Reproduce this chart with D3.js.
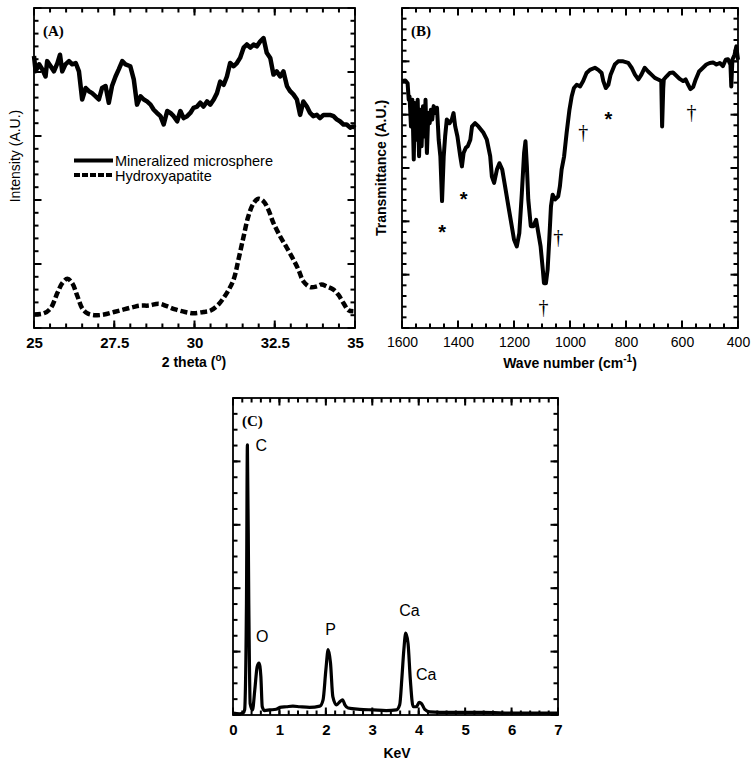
<!DOCTYPE html>
<html>
<head>
<meta charset="utf-8">
<script src="https://cdn.jsdelivr.net/npm/d3@7"></script>
<style>
  body { margin: 0; background: #fff; }
</style>
</head>
<body>
<svg id="fig" width="756" height="769"></svg>
<script>
// ---- (A) XRD: 2 theta vs intensity ----
const xrdMineralized = [
  [25.00,4.25],[25.05,4.01],[25.16,4.12],[25.26,4.04],[25.36,3.93],[25.41,4.17],[25.52,4.09],[25.62,4.01],
  [25.73,4.14],[25.81,4.27],[25.88,4.01],[25.98,4.12],[26.09,4.17],[26.19,4.12],[26.30,4.14],[26.40,4.01],
  [26.50,3.57],[26.61,3.75],[26.71,3.70],[26.81,3.67],[26.92,3.62],[27.02,3.57],[27.12,3.75],[27.23,3.78],
  [27.33,3.52],[27.43,3.78],[27.54,3.93],[27.64,4.04],[27.75,4.17],[27.85,4.12],[28.00,4.09],[28.11,3.88],
  [28.21,3.49],[28.32,3.62],[28.42,3.57],[28.52,3.54],[28.63,3.49],[28.73,3.41],[28.83,3.36],[28.94,3.31],
  [29.04,3.18],[29.15,3.39],[29.25,3.36],[29.35,3.31],[29.46,3.23],[29.56,3.39],[29.66,3.28],[29.77,3.31],
  [29.87,3.36],[29.97,3.44],[30.08,3.46],[30.18,3.52],[30.28,3.46],[30.39,3.54],[30.49,3.49],[30.60,3.57],
  [30.70,3.67],[30.80,3.85],[30.91,3.80],[31.01,3.93],[31.11,4.14],[31.22,4.09],[31.32,4.14],[31.42,4.22],
  [31.53,4.38],[31.63,4.43],[31.74,4.38],[31.84,4.43],[31.94,4.40],[32.05,4.48],[32.15,4.53],[32.25,4.30],
  [32.36,4.22],[32.46,3.96],[32.56,4.01],[32.67,3.93],[32.77,4.01],[32.88,3.78],[32.98,3.70],[33.08,3.65],
  [33.19,3.57],[33.29,3.33],[33.39,3.54],[33.50,3.46],[33.60,3.36],[33.70,3.31],[33.81,3.33],[33.91,3.28],
  [34.02,3.33],[34.12,3.33],[34.22,3.33],[34.33,3.31],[34.43,3.26],[34.53,3.23],[34.64,3.18],[34.74,3.18],
  [34.85,3.13],[34.95,3.15],[35.00,3.13]
];
const xrdHydroxyapatite = [
  [25.00,0.21],[25.31,0.23],[25.52,0.31],[25.73,0.55],[25.88,0.70],[26.04,0.77],[26.19,0.70],[26.35,0.50],
  [26.50,0.31],[26.66,0.23],[26.92,0.20],[27.18,0.21],[27.49,0.25],[27.80,0.29],[28.11,0.33],[28.32,0.35],
  [28.57,0.35],[28.89,0.38],[29.14,0.34],[29.40,0.29],[29.71,0.25],[29.97,0.23],[30.28,0.25],[30.49,0.27],
  [30.75,0.37],[31.01,0.55],[31.22,0.76],[31.37,1.07],[31.53,1.43],[31.68,1.75],[31.84,1.95],[31.99,2.02],
  [32.15,1.98],[32.30,1.85],[32.46,1.64],[32.67,1.43],[32.88,1.25],[33.08,1.07],[33.24,0.91],[33.39,0.73],
  [33.60,0.64],[33.81,0.65],[33.96,0.68],[34.12,0.65],[34.33,0.60],[34.48,0.52],[34.64,0.39],[34.79,0.28],
  [34.95,0.26]
];
const xrdTicks = [25, 27.5, 30, 32.5, 35];
const xrdLegend = ["Mineralized microsphere", "Hydroxyapatite"];

// ---- (B) FTIR: wave number vs transmittance ----
const ftir = [
  [1600,4.63],[1588,4.64],[1580,4.59],[1576,4.28],[1573,4.34],[1568,3.78],[1563,4.28],[1558,3.16],
  [1554,4.22],[1549,3.53],[1544,4.28],[1539,3.22],[1535,4.09],[1530,3.41],[1525,4.16],[1520,3.59],
  [1516,4.28],[1511,3.28],[1506,4.03],[1501,3.84],[1497,4.09],[1492,3.91],[1487,4.16],[1480,4.03],
  [1475,4.13],[1469,3.53],[1463,3.22],[1457,2.38],[1451,3.22],[1446,3.59],[1440,3.91],[1430,3.84],
  [1422,3.91],[1416,4.03],[1410,3.78],[1402,3.59],[1392,3.22],[1386,3.03],[1380,3.28],[1372,3.38],
  [1365,3.41],[1356,3.53],[1350,3.78],[1339,3.84],[1327,3.78],[1309,3.66],[1297,3.53],[1285,3.22],
  [1279,2.84],[1271,2.72],[1261,2.97],[1252,3.09],[1242,2.97],[1232,2.66],[1220,2.28],[1208,1.91],
  [1200,1.66],[1190,1.53],[1181,1.78],[1172,2.53],[1164,3.28],[1159,3.50],[1154,3.03],[1149,2.41],
  [1140,1.91],[1131,1.91],[1121,2.03],[1113,1.78],[1105,1.53],[1097,1.09],[1093,0.84],[1086,0.84],
  [1080,1.09],[1074,1.66],[1068,2.28],[1062,2.50],[1053,2.41],[1042,2.47],[1036,2.66],[1030,2.97],
  [1021,3.22],[1012,3.66],[1002,4.09],[994,4.34],[986,4.50],[976,4.56],[964,4.53],[953,4.63],
  [941,4.78],[929,4.84],[911,4.88],[899,4.84],[887,4.78],[881,4.63],[872,4.50],[863,4.56],
  [855,4.75],[840,4.94],[828,5.00],[810,5.00],[792,4.97],[780,4.88],[768,4.75],[756,4.66],
  [745,4.75],[733,4.88],[721,4.81],[709,4.75],[697,4.69],[685,4.66],[674,4.63],[671,3.78],
  [667,4.50],[665,4.66],[655,4.72],[644,4.78],[632,4.79],[620,4.73],[608,4.67],[596,4.63],
  [587,4.66],[578,4.56],[570,4.48],[560,4.52],[551,4.66],[539,4.81],[525,4.88],[513,4.94],
  [501,4.97],[489,4.98],[477,4.94],[465,4.97],[454,4.91],[444,5.03],[436,5.04],[427,4.94],
  [424,4.53],[420,5.03],[412,5.13],[406,5.28],[400,5.03]
];
const ftirTicks = [1600, 1400, 1200, 1000, 800, 600, 400];
const ftirMarks = [
  [1457,1.88,"*"],[1380,2.50,"*"],[863,4.00,"*"],
  [1095,0.38,"\u2020"],[1042,1.69,"\u2020"],[953,3.66,"\u2020"],[566,4.03,"\u2020"]
];

// ---- (C) EDS: energy vs counts ----
const eds = [
  [0.00,0.03],[0.14,0.02],[0.22,0.03],[0.25,0.08],[0.29,1.76],[0.31,4.26],[0.34,1.76],[0.37,0.18],
  [0.42,0.08],[0.47,0.40],[0.52,0.76],[0.56,0.82],[0.60,0.61],[0.63,0.13],[0.68,0.07],[0.79,0.08],
  [0.93,0.09],[1.01,0.12],[1.15,0.13],[1.29,0.14],[1.44,0.13],[1.65,0.12],[1.87,0.14],[1.94,0.24],
  [2.00,0.71],[2.05,1.03],[2.10,0.82],[2.15,0.29],[2.23,0.16],[2.30,0.21],[2.36,0.24],[2.41,0.16],
  [2.48,0.11],[2.73,0.09],[3.02,0.08],[3.30,0.07],[3.52,0.08],[3.59,0.16],[3.64,0.61],[3.68,1.03],
  [3.72,1.29],[3.77,1.13],[3.82,0.55],[3.88,0.13],[3.95,0.13],[4.01,0.20],[4.06,0.18],[4.13,0.09],
  [4.24,0.05],[4.67,0.04],[5.38,0.04],[6.10,0.03],[7.00,0.03]
];
const edsTicks = [0, 1, 2, 3, 4, 5, 6, 7];
const edsPeaks = [
  [0.61,4.26,"C"],[0.63,1.25,"O"],[2.10,1.36,"P"],[3.80,1.65,"Ca"],[4.16,0.65,"Ca"]
];

const sans = "Arial, 'Liberation Sans', Helvetica, sans-serif";
const serif = "'Liberation Serif', 'Times New Roman', serif";
const svg = d3.select("#fig");

function panel(o) {
  const g = svg.append("g");
  const x = d3.scaleLinear().domain(o.xDomain).range([o.left, o.right]);
  const y = d3.scaleLinear().domain(o.yDomain).range([o.bottom, o.top]);

  // labelled bottom axis (labels only, ticks drawn separately)
  const bx = g.append("g").attr("transform", `translate(0,${o.bottom})`)
    .call(d3.axisBottom(x).tickValues(o.xMajor).tickSize(0).tickPadding(9).tickFormat(d3.format("")))
    .call(s => s.select(".domain").remove());
  bx.selectAll("text")
    .attr("font-family", sans).attr("font-size", o.tickBold ? 15 : 14)
    .attr("font-weight", o.tickBold ? "bold" : "normal").attr("fill", "#000");

  g.append("rect")
    .attr("x", o.left).attr("y", o.top)
    .attr("width", o.right - o.left).attr("height", o.bottom - o.top)
    .attr("fill", "none").attr("stroke", "#000").attr("stroke-width", 1.8);

  g.append("text")
    .attr("x", o.left + 9).attr("y", o.top + 28)
    .attr("font-family", serif).attr("font-weight", "bold").attr("font-size", 15)
    .attr("fill", "#000")
    .text(o.tag);

  return { g, x, y, o };
}

// inward ticks on all four sides
function frameTicks(p) {
  const { g, x, y, o } = p;
  const t = g.append("g");
  [[o.xMinor, 4.5], [o.xMajor, 7.5]].forEach(([vals, len]) => {
    t.append("g").selectAll("line").data(vals).join("line")
      .attr("x1", d => x(d)).attr("x2", d => x(d))
      .attr("y1", o.top).attr("y2", o.top + len)
      .attr("stroke", "#000").attr("stroke-width", 2);
    t.append("g").selectAll("line").data(vals).join("line")
      .attr("x1", d => x(d)).attr("x2", d => x(d))
      .attr("y1", o.bottom).attr("y2", o.bottom - len)
      .attr("stroke", "#000").attr("stroke-width", 2);
  });
  [[o.yMinor, 4.5], [o.yMajor, 7.5]].forEach(([vals, len]) => {
    t.append("g").selectAll("line").data(vals).join("line")
      .attr("x1", o.left).attr("x2", o.left + len)
      .attr("y1", d => y(d)).attr("y2", d => y(d))
      .attr("stroke", "#000").attr("stroke-width", 2);
    t.append("g").selectAll("line").data(vals).join("line")
      .attr("x1", o.right).attr("x2", o.right - len)
      .attr("y1", d => y(d)).attr("y2", d => y(d))
      .attr("stroke", "#000").attr("stroke-width", 2);
  });
}

// ---------- Panel A ----------
{
  const p = panel({
    left: 34, right: 355, top: 8, bottom: 328,
    xDomain: [25, 35], yDomain: [0, 5],
    xMajor: xrdTicks, xMinor: d3.range(25, 35.01, 0.5),
    yMajor: d3.range(0, 5.01, 1), yMinor: d3.range(0, 5.01, 0.2),
    tickBold: true, tag: "(A)"
  });
  const { g, x, y } = p;
  frameTicks(p);
  g.append("path").datum(xrdMineralized)
    .attr("d", d3.line().x(d => x(d[0])).y(d => y(d[1])))
    .attr("fill", "none").attr("stroke", "#000").attr("stroke-width", 4.5)
    .attr("stroke-linejoin", "round");
  g.append("path").datum(xrdHydroxyapatite)
    .attr("d", d3.line().curve(d3.curveCatmullRom).x(d => x(d[0])).y(d => y(d[1])))
    .attr("fill", "none").attr("stroke", "#000").attr("stroke-width", 4.5)
    .attr("stroke-dasharray", "7,3");

  // legend
  const leg = g.append("g").attr("transform", "translate(74,160.5)");
  xrdLegend.forEach((name, i) => {
    leg.append("line").attr("x1", 0).attr("x2", 39).attr("y1", i * 14.5).attr("y2", i * 14.5)
      .attr("stroke", "#000").attr("stroke-width", 4)
      .attr("stroke-dasharray", i === 1 ? "6,2" : null);
    leg.append("text").attr("x", 41).attr("y", i * 14.5 + 5.5)
      .attr("font-family", sans).attr("font-size", 14.5).attr("fill", "#000").text(name);
  });

  svg.append("text")
    .attr("transform", "translate(15,156) rotate(-90)")
    .attr("text-anchor", "middle").attr("dominant-baseline", "central")
    .attr("font-family", sans).attr("font-size", 14).attr("fill", "#000")
    .text("Intensity (A.U.)");
  const t = svg.append("text").attr("x", 194).attr("y", 367).attr("text-anchor", "middle")
    .attr("font-family", sans).attr("font-size", 14).attr("font-weight", "bold").attr("fill", "#000");
  t.append("tspan").text("2 theta (");
  t.append("tspan").attr("dy", -6).attr("font-size", 10).text("o");
  t.append("tspan").attr("dy", 6).text(")");
}

// ---------- Panel B ----------
{
  const p = panel({
    left: 402, right: 738, top: 8, bottom: 328,
    xDomain: [1600, 400], yDomain: [0, 6],
    xMajor: ftirTicks, xMinor: d3.range(400, 1601, 50),
    yMajor: d3.range(0, 6.01, 1), yMinor: d3.range(0, 6.01, 0.2),
    tickBold: false, tag: "(B)"
  });
  const { g, x, y } = p;
  frameTicks(p);
  g.append("path").datum(ftir)
    .attr("d", d3.line().x(d => x(d[0])).y(d => y(d[1])))
    .attr("fill", "none").attr("stroke", "#000").attr("stroke-width", 4)
    .attr("stroke-linejoin", "round");

  g.selectAll("text.mark").data(ftirMarks).join("text")
    .attr("class", "mark")
    .attr("x", d => x(d[0])).attr("y", d => y(d[1]))
    .attr("dy", d => d[2] === "*" ? 11 : 6)
    .attr("text-anchor", "middle")
    .attr("fill", "#000")
    .attr("font-family", d => d[2] === "*" ? sans : serif)
    .attr("font-weight", d => d[2] === "*" ? "bold" : "normal")
    .attr("font-size", 20)
    .text(d => d[2]);

  svg.append("text")
    .attr("transform", "translate(381,168) rotate(-90)")
    .attr("text-anchor", "middle").attr("dominant-baseline", "central")
    .attr("font-family", sans).attr("font-size", 14).attr("font-weight", "bold").attr("fill", "#000")
    .text("Transmittance (A.U.)");
  const t = svg.append("text").attr("x", 570).attr("y", 368).attr("text-anchor", "middle")
    .attr("font-family", sans).attr("font-size", 14).attr("font-weight", "bold").attr("fill", "#000");
  t.append("tspan").text("Wave number (cm");
  t.append("tspan").attr("dy", -6).attr("font-size", 10).text("-1");
  t.append("tspan").attr("dy", 6).text(")");
}

// ---------- Panel C ----------
{
  const p = panel({
    left: 233, right: 558, top: 398, bottom: 715,
    xDomain: [0, 7], yDomain: [0, 5],
    xMajor: edsTicks, xMinor: d3.range(0, 7.01, 0.2),
    yMajor: d3.range(0, 5.01, 1), yMinor: d3.range(0, 5.01, 0.25),
    tickBold: true, tag: "(C)"
  });
  const { g, x, y } = p;
  frameTicks(p);
  g.append("path").datum(eds)
    .attr("d", d3.line().curve(d3.curveMonotoneX).x(d => x(d[0])).y(d => y(d[1])))
    .attr("fill", "none").attr("stroke", "#000").attr("stroke-width", 3.2)
    .attr("stroke-linejoin", "round");

  g.selectAll("text.peak").data(edsPeaks).join("text")
    .attr("class", "peak")
    .attr("x", d => x(d[0])).attr("y", d => y(d[1]))
    .attr("dy", 6)
    .attr("text-anchor", "middle")
    .attr("font-family", sans).attr("font-size", 16).attr("fill", "#000")
    .text(d => d[2]);

  svg.append("text").attr("x", 397).attr("y", 758).attr("text-anchor", "middle")
    .attr("font-family", sans).attr("font-size", 14).attr("font-weight", "bold").attr("fill", "#000")
    .text("KeV");
}
</script>
</body>
</html>
